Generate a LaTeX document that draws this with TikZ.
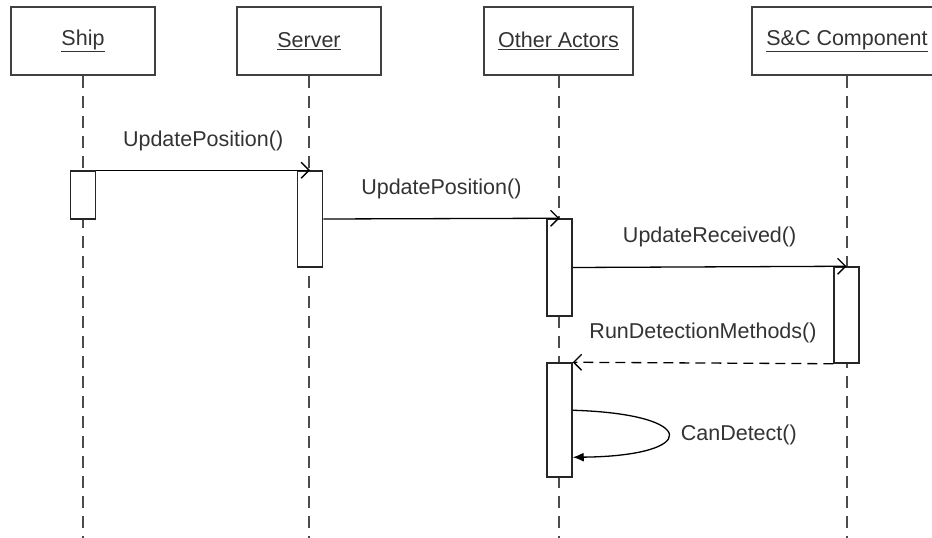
\documentclass[tikz,border=0pt]{standalone}
\usepackage{fontspec}
\setmainfont{Liberation Sans}
\usetikzlibrary{arrows.meta, positioning}

\begin{document}
\begin{tikzpicture}[x = 1pt, y = -1pt,
    actor/.style = {draw = black!75, line width = 1.6pt, minimum height = 68pt, inner sep = 0pt, text = black!80, font = \fontsize{21.5}{25}\selectfont},
    lifeline/.style = {draw = black!70, line width = 2pt, dash pattern = on 12pt off 8pt},
    activation/.style = {draw = black!85, fill = white, line width = 1.5pt, minimum width = 25pt, inner sep = 0pt},
    msg/.style = {draw = black, line width = 1.3pt, -{Straight Barb[length = 8pt, width = 16pt]}},
    msglabel/.style = {above = 19pt, inner sep = 0pt, text = black!80, font = \fontsize{21.5}{25}\selectfont}]
  \useasboundingbox (0,0) rectangle (932,538);
  % objects
  \node[actor, minimum width = 144pt] (ship) at (83,41) {\underline{Ship}};
  \node[actor, minimum width = 144pt] (server) at (309,41) {\underline{Server}};
  \node[actor, minimum width = 149pt] (other) at (558.5,41) {\underline{Other Actors}};
  \node[actor, minimum width = 190pt] (sc) at (847,41) {\underline{S\&C Component}};
  \coordinate (bottom) at (0,538);
  \foreach \a in {ship, server, other, sc}
    \draw[lifeline] (\a.south) -- (\a.south |- bottom);
  % activations
  \node[activation, minimum height = 48pt] (shipact) at (83,195) {};
  \node[activation, minimum height = 96pt] (serveract) at (310,219) {};
  \node[activation, minimum height = 97pt] (otheract) at (559.5,267.5) {};
  \node[activation, minimum height = 96pt] (scact) at (846.5,315) {};
  \node[activation, minimum height = 114pt] (otheract2) at (559.5,420) {};
  % messages
  \draw[msg] (shipact.north east) -- node[msglabel] {UpdatePosition()} (serveract.north);
  \draw[msg] (serveract.east) -- node[msglabel] {UpdatePosition()} (otheract.north);
  \draw[msg] (otheract.east) -- node[msglabel] {UpdateReceived()} (scact.north);
  \draw[msg, dash pattern = on 10pt off 6pt] (scact.south west) -- node[msglabel] {RunDetectionMethods()} (otheract2.north east);
  \draw[line width = 1.3pt, -{Latex[length = 11pt, width = 9pt]}] ([yshift = -48pt]otheract2.north east)
    .. controls (700,414) and (700,456) .. ([yshift = -95pt]otheract2.north east)
    node[pos = 0.5, right = 12pt, inner sep = 0pt, text = black!80, font = \fontsize{21.5}{25}\selectfont] {CanDetect()};
\end{tikzpicture}
\end{document}
